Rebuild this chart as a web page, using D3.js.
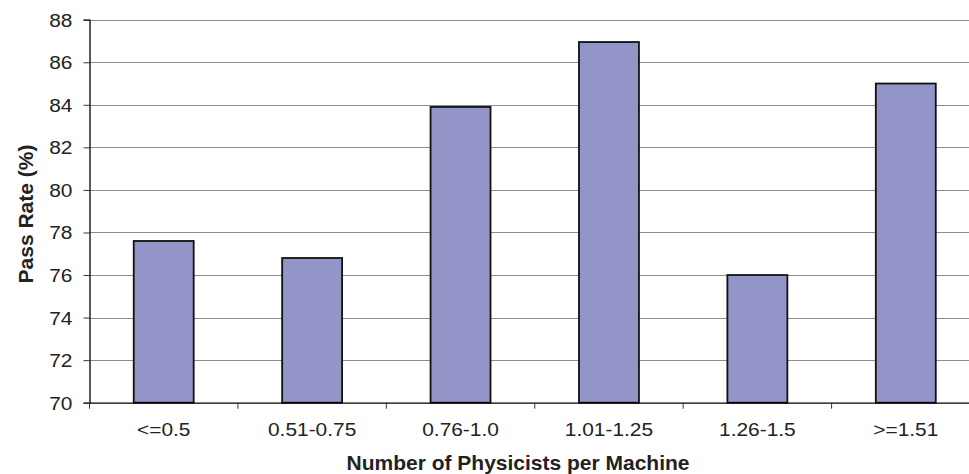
<!DOCTYPE html>
<html>
<head>
<meta charset="utf-8">
<script src="https://cdn.jsdelivr.net/npm/d3@7"></script>
<style>
  html, body { margin: 0; padding: 0; background: #fff; }
  svg { display: block; font-family: "Liberation Sans", Arial, sans-serif; }
</style>
</head>
<body>
<svg id="chart" width="969" height="474"></svg>
<script>
// Pass rate by staffing level
const categories = ["<=0.5", "0.51-0.75", "0.76-1.0", "1.01-1.25", "1.26-1.5", ">=1.51"];
const passRates = [77.6, 76.8, 83.9, 86.95, 76.0, 85.0];
const yTicks = [70, 72, 74, 76, 78, 80, 82, 84, 86, 88];

const svg = d3.select("#chart");
const plotLeft = 89.5, plotTop = 19.7, plotBottom = 402.7, plotRight = 980;
const stretch = 1.1; // slightly wide lettering

const x = d3.scaleBand().domain(categories).range([plotLeft, plotRight]).paddingInner(0.596).paddingOuter(0.298);
const xTicksScale = d3.scaleBand().domain(categories).range([plotLeft, plotRight]);
const y = d3.scaleLinear().domain([70, 88]).range([plotBottom, plotTop]);

// horizontal gridlines
svg.append("g").selectAll("line").data(yTicks.filter(t => t > 70)).join("line")
  .attr("x1", plotLeft).attr("x2", plotRight)
  .attr("y1", d => Math.round(y(d)) + 0.5).attr("y2", d => Math.round(y(d)) + 0.5)
  .attr("stroke", "#8c8c8c").attr("stroke-width", 1);

// bars
svg.append("g").selectAll("rect").data(categories).join("rect")
  .attr("x", d => x(d))
  .attr("width", x.bandwidth())
  .attr("y", (d, i) => y(passRates[i]))
  .attr("height", (d, i) => plotBottom - y(passRates[i]))
  .attr("fill", "#9394c7")
  .attr("stroke", "#111")
  .attr("stroke-width", 1.8);

// y axis
const yAxis = svg.append("g").attr("transform", `translate(${plotLeft},0)`)
  .call(d3.axisLeft(y).tickValues(yTicks).tickSize(6).tickFormat(d3.format("d")));
yAxis.select(".domain").attr("stroke", "#000").attr("stroke-width", 1.3);
yAxis.selectAll(".tick line").attr("stroke", "#333");
yAxis.selectAll(".tick text")
  .attr("x", 0).attr("dy", "0.34em")
  .attr("transform", `translate(-17,0) scale(${stretch},1)`)
  .attr("font-size", 19).attr("fill", "#222")
  .attr("font-family", "Liberation Sans, Arial, sans-serif");

// x axis: ticks at category boundaries
const xAxisG = svg.append("g").attr("transform", `translate(0,${plotBottom})`);
xAxisG.append("line").attr("x1", plotLeft).attr("x2", plotRight).attr("y1", 0.5).attr("y2", 0.5)
  .attr("stroke", "#000").attr("stroke-width", 1.3);
const bounds = categories.map(c => xTicksScale(c));
xAxisG.selectAll("line.tk").data(bounds).join("line").attr("class", "tk")
  .attr("x1", d => d).attr("x2", d => d).attr("y1", 0).attr("y2", 6)
  .attr("stroke", "#333");
xAxisG.selectAll("text").data(categories).join("text")
  .attr("transform", d => `translate(${xTicksScale(d) + xTicksScale.bandwidth() / 2},33.5) scale(${stretch},1)`)
  .attr("text-anchor", "middle")
  .attr("font-size", 19).attr("fill", "#222")
  .text(d => d);

// axis titles
svg.append("text")
  .attr("transform", `translate(518,469.5) scale(1.05,1)`)
  .attr("text-anchor", "middle")
  .attr("font-size", 20).attr("font-weight", "bold").attr("fill", "#222")
  .text("Number of Physicists per Machine");

svg.append("text")
  .attr("transform", `translate(33,214) rotate(-90) scale(1.05,1)`)
  .attr("text-anchor", "middle")
  .attr("font-size", 20).attr("font-weight", "bold").attr("fill", "#222")
  .text("Pass Rate (%)");
</script>
</body>
</html>
